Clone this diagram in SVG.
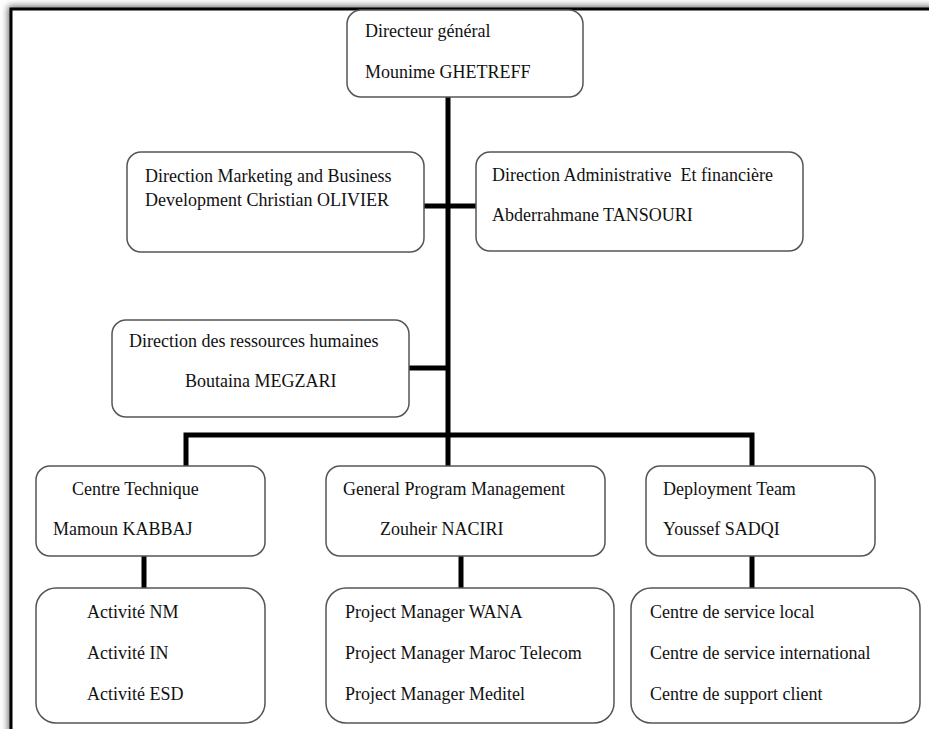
<svg xmlns="http://www.w3.org/2000/svg" width="929" height="729" viewBox="0 0 929 729">
  <defs>
    <filter id="soft" x="-5%" y="-5%" width="110%" height="110%">
      <feGaussianBlur stdDeviation="3.5"/>
    </filter>
    <style>
      .box { fill: #ffffff; stroke: #555555; stroke-width: 1.5; }
      .wire { stroke: #000000; stroke-width: 5; fill: none; }
      text { font-family: "Liberation Serif", "Times New Roman", serif; font-size: 18px; fill: #111111; }
    </style>
  </defs>

  <!-- page background, shadow and frame -->
  <rect x="0" y="0" width="929" height="729" fill="#ffffff"/>
  <rect x="8" y="6" width="960" height="760" fill="#6a6a6a" filter="url(#soft)"/>
  <rect x="11" y="9" width="960" height="760" fill="#ffffff" stroke="#000000" stroke-width="3"/>

  <!-- connectors -->
  <g id="connectors">
    <line class="wire" x1="448" y1="97" x2="448" y2="437"/>
    <line class="wire" x1="424" y1="206" x2="476" y2="206"/>
    <line class="wire" x1="409" y1="368" x2="448" y2="368"/>
    <polyline class="wire" points="186,466 186,435 752,435 752,466"/>
    <line class="wire" x1="448" y1="435" x2="448" y2="466"/>
    <line class="wire" x1="144" y1="556" x2="144" y2="588"/>
    <line class="wire" x1="461" y1="556" x2="461" y2="588"/>
    <line class="wire" x1="752" y1="556" x2="752" y2="588"/>
  </g>

  <!-- top management -->
  <g id="directeur-general">
    <rect class="box" x="347" y="10" width="236" height="87" rx="14"/>
    <text x="365" y="37">Directeur général</text>
    <text x="365" y="78">Mounime GHETREFF</text>
  </g>

  <g id="direction-marketing">
    <rect class="box" x="127" y="152" width="297" height="100" rx="14"/>
    <text x="145" y="182">Direction Marketing and Business</text>
    <text x="145" y="206">Development Christian OLIVIER</text>
  </g>

  <g id="direction-administrative">
    <rect class="box" x="476" y="152" width="327" height="99" rx="14"/>
    <text x="492" y="181" xml:space="preserve">Direction Administrative  Et financière</text>
    <text x="492" y="221">Abderrahmane TANSOURI</text>
  </g>

  <g id="direction-rh">
    <rect class="box" x="112" y="320" width="297" height="97" rx="14"/>
    <text x="129" y="347">Direction des ressources humaines</text>
    <text x="185" y="387">Boutaina MEGZARI</text>
  </g>

  <!-- departments -->
  <g id="centre-technique">
    <rect class="box" x="36" y="466" width="229" height="90" rx="14"/>
    <text x="72" y="495">Centre Technique</text>
    <text x="53" y="535">Mamoun KABBAJ</text>
  </g>

  <g id="general-program-management">
    <rect class="box" x="326" y="466" width="279" height="90" rx="14"/>
    <text x="343" y="495">General Program Management</text>
    <text x="380" y="535">Zouheir NACIRI</text>
  </g>

  <g id="deployment-team">
    <rect class="box" x="646" y="466" width="229" height="90" rx="14"/>
    <text x="663" y="495">Deployment Team</text>
    <text x="663" y="535">Youssef SADQI</text>
  </g>

  <!-- teams -->
  <g id="activites">
    <rect class="box" x="36" y="588" width="229" height="135" rx="20"/>
    <text x="87" y="618">Activité NM</text>
    <text x="87" y="659">Activité IN</text>
    <text x="87" y="700">Activité ESD</text>
  </g>

  <g id="project-managers">
    <rect class="box" x="326" y="588" width="288" height="135" rx="20"/>
    <text x="345" y="618">Project Manager WANA</text>
    <text x="345" y="659">Project Manager Maroc Telecom</text>
    <text x="345" y="700">Project Manager Meditel</text>
  </g>

  <g id="centres-service">
    <rect class="box" x="631" y="588" width="289" height="135" rx="20"/>
    <text x="650" y="618">Centre de service local</text>
    <text x="650" y="659">Centre de service international</text>
    <text x="650" y="700">Centre de support client</text>
  </g>
</svg>
